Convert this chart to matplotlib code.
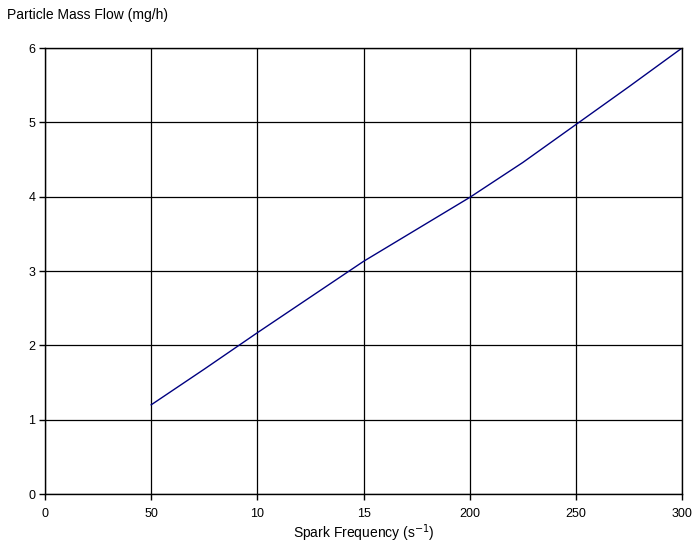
import matplotlib
matplotlib.use("Agg")
import matplotlib.pyplot as plt

plt.rcParams['font.family'] = ['Liberation Sans', 'DejaVu Sans']

# spark frequency vs particle mass flow
freq = [50, 75, 100, 125, 150, 175, 200, 225, 250, 275, 300]
mass_flow = [1.20, 1.68, 2.17, 2.65, 3.13, 3.56, 3.99, 4.46, 4.97, 5.48, 6.0]

x_ticks = [0, 50, 100, 150, 200, 250, 300]
x_tick_labels = ['0', '50', '10', '15', '200', '250', '300']
y_ticks = [0, 1, 2, 3, 4, 5, 6]

fig = plt.figure(figsize=(7, 5.46), dpi=100)
ax = fig.add_axes([0.0643, 0.0952, 0.9100, 0.8168])

ax.plot(freq, mass_flow, color='#000080', linewidth=1)

ax.set_xlim(0, 300)
ax.set_ylim(0, 6)
ax.set_xticks(x_ticks)
ax.set_xticklabels(x_tick_labels)
ax.set_yticks(y_ticks)
ax.tick_params(direction='out', length=4, width=1, color='black', labelsize=9, pad=3)
ax.tick_params(axis='x', pad=6)
ax.grid(True, color='black', linewidth=0.9)
ax.set_axisbelow(True)
for s in ax.spines.values():
    s.set_color('black')
    s.set_linewidth(1)

ax.set_xlabel('Spark Frequency (s$^{-1}$)', fontsize=10, labelpad=2)
fig.text(0.01, 0.972, 'Particle Mass Flow (mg/h)', fontsize=10, ha='left', va='center')

plt.savefig('out.png', dpi=100)
